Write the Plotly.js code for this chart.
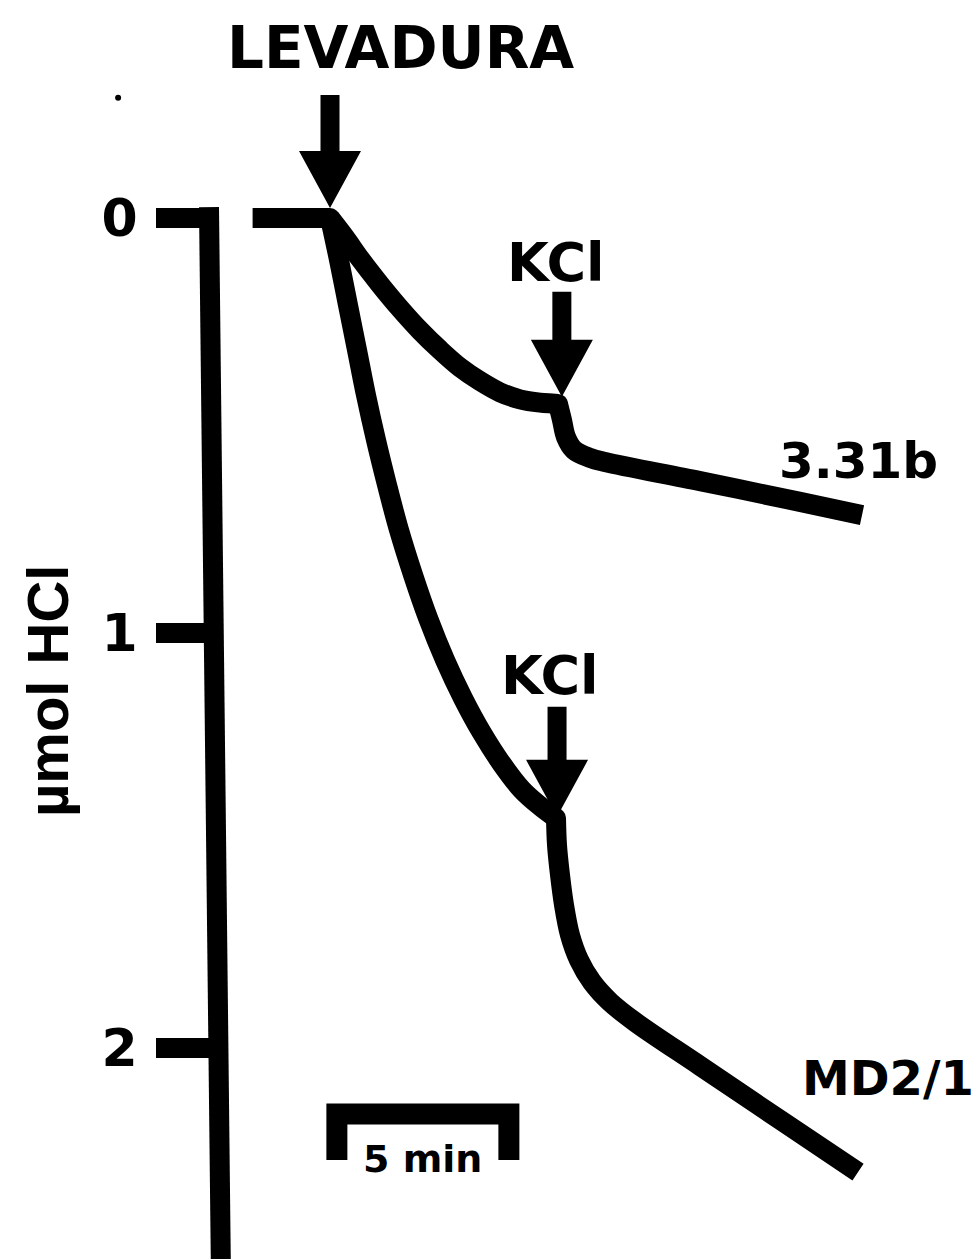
<!DOCTYPE html>
<html><head><meta charset="utf-8">
<script src="https://cdn.plot.ly/plotly-3.0.1.min.js"></script>
<style>html,body{margin:0;padding:0;background:#fff}#chart{width:977px;height:1259px}</style>
</head><body><div id="chart"></div>
<script>
// time in minutes after yeast addition; acid in µmol HCl
const baselineTime = [-2.25, 0];
const baselineHcl = [0, 0];
const time331b = [0, 0.436, 0.872, 1.453, 2.035, 2.616, 3.198, 3.779, 4.360, 4.942, 5.523, 6.105, 6.453, 6.628, 6.744, 6.860, 7.093, 7.558, 7.994, 10.756, 13.663, 15.465];
const hcl331b  = [0, 0.047, 0.098, 0.160, 0.218, 0.271, 0.318, 0.360, 0.393, 0.420, 0.437, 0.445, 0.447, 0.448, 0.487, 0.528, 0.559, 0.578, 0.588, 0.634, 0.684, 0.716];
const timeMD21 = [0, 0.262, 0.523, 0.785, 1.047, 1.337, 1.657, 2.006, 2.413, 2.849, 3.343, 3.866, 4.419, 5.000, 5.581, 6.105, 6.570, 6.599, 6.686, 6.802, 6.977, 7.238, 7.616, 8.140, 8.866, 10.756, 13.081, 15.349];
const hclMD21  = [0, 0.101, 0.210, 0.318, 0.427, 0.535, 0.643, 0.752, 0.860, 0.964, 1.065, 1.157, 1.241, 1.316, 1.378, 1.417, 1.446, 1.511, 1.583, 1.655, 1.728, 1.788, 1.841, 1.889, 1.937, 2.043, 2.173, 2.299];
const seriesNames = ['3.31b', 'MD2/1'];
const seriesLabelTime = [15.35, 13.66];
const seriesLabelHcl = [0.585, 2.072];
const eventLabels = ['LEVADURA', 'KCl', 'KCl'];
const eventTimes = [0, 6.74, 6.60];
const eventHcl = [-0.024, 0.431, 1.443];
const yTickVals = [0, 1, 2];
const yTickText = ['0', '1', '2'];
const yTitle = 'µmol HCl';
const scaleBarStart = 0.2;
const scaleBarMinutes = 5;
const scaleBarHcl = 2.159;
const scaleBarLabel = '5 min';
const speckTime = [-6.16];
const speckHcl = [-0.29];

// ---- styling / layout ----
const PX_PER_MIN = 34.4, PX_PER_UNIT = 415, X0PX = 330, Y0PX = 218, W = 977, H = 1259;
const xRange = [-X0PX / PX_PER_MIN, (W - X0PX) / PX_PER_MIN];
const yRange = [(H - Y0PX) / PX_PER_UNIT, -Y0PX / PX_PER_UNIT];
const FONT = 'DejaVu Sans';
const LW = 20;

// each curve is drawn as two smooth pieces that meet at the KCl addition
function splitIndex(tArr, tKcl) { return tArr.findIndex(t => t >= tKcl - 0.15); }
const traces = [
  {x: baselineTime, y: baselineHcl, mode: 'lines', line: {color: '#000', width: LW}, hoverinfo: 'skip', showlegend: false}
];
const joinT = [baselineTime[baselineTime.length - 1]], joinY = [baselineHcl[baselineHcl.length - 1]];
[[time331b, hcl331b, eventTimes[1]], [timeMD21, hclMD21, eventTimes[2]]].forEach(([tA, yA, tk], s) => {
  const k = splitIndex(tA, tk);
  [[tA.slice(0, k + 1), yA.slice(0, k + 1)], [tA.slice(k), yA.slice(k)]].forEach(([px, py]) => {
    traces.push({x: px, y: py, name: seriesNames[s], mode: 'lines',
      line: {color: '#000', width: LW, shape: 'spline', smoothing: 1}, showlegend: false});
  });
  joinT.push(tA[k]); joinY.push(yA[k]);
});
// round joints where pieces meet
traces.push({x: joinT, y: joinY, mode: 'markers', marker: {color: '#000', size: LW, line: {width: 0}}, hoverinfo: 'skip', showlegend: false});
traces.push({x: speckTime, y: speckHcl, mode: 'markers', marker: {color: '#000', size: 6}, hoverinfo: 'skip', showlegend: false});

const shaftLen = [113, 105, 110];
const headLen = 57, headHalf = 31, shaftHalf = 9.5;
const shapes = [];
eventTimes.forEach((t, i) => {
  const L = shaftLen[i];
  shapes.push({
    type: 'path', xref: 'x', yref: 'y', xsizemode: 'pixel', ysizemode: 'pixel',
    xanchor: t, yanchor: eventHcl[i],
    path: `M${-shaftHalf},${L} L${shaftHalf},${L} L${shaftHalf},${headLen} L${headHalf},${headLen} L0,0 L${-headHalf},${headLen} L${-shaftHalf},${headLen} Z`,
    fillcolor: '#000', line: {width: 0}
  });
});
// y axis spine (slightly tilted like the scan)
shapes.push({type: 'line', xref: 'paper', yref: 'y', x0: 209 / W, x1: 221 / W, y0: -0.026, y1: yRange[0] + 0.05, line: {color: '#000', width: LW}});
// scale bar
const sb0 = scaleBarStart, sb1 = scaleBarStart + scaleBarMinutes;
shapes.push({type: 'path', xref: 'x', yref: 'y', ysizemode: 'pixel', yanchor: scaleBarHcl,
  path: `M${sb0},-46 L${sb0},0 L${sb1},0 L${sb1},-46`, fillcolor: 'rgba(0,0,0,0)', line: {color: '#000', width: 21}});

const ann = [];
const evShift = [[70, 160], [-6, 134], [-7, 141]];
eventLabels.forEach((txt, i) => {
  ann.push({x: eventTimes[i], y: eventHcl[i], xref: 'x', yref: 'y', text: txt, showarrow: false,
    xshift: evShift[i][0], yshift: evShift[i][1], xanchor: 'center', yanchor: 'middle',
    font: {family: FONT, size: i === 0 ? 58 : 54, color: '#000', weight: 'bold'}});
});
seriesNames.forEach((txt, i) => {
  ann.push({x: seriesLabelTime[i], y: seriesLabelHcl[i], xref: 'x', yref: 'y', text: txt, showarrow: false,
    xanchor: i === 0 ? 'center' : 'left', yanchor: 'middle',
    font: {family: FONT, size: i === 0 ? 50 : 48, color: '#000', weight: 'bold'}});
});
ann.push({x: (sb0 + sb1) / 2, y: scaleBarHcl, xref: 'x', yref: 'y', text: scaleBarLabel, showarrow: false,
  yshift: -45, xanchor: 'center', yanchor: 'middle', font: {family: FONT, size: 38, color: '#000', weight: 'bold'}});
ann.push({x: 47 / W, y: 1.14, xref: 'paper', yref: 'y', text: yTitle, showarrow: false, textangle: -90,
  xanchor: 'center', yanchor: 'middle', font: {family: 'Liberation Sans', size: 58, color: '#000', weight: 'bold'}});

const layout = {
  width: W, height: H, margin: {l: 0, r: 0, t: 0, b: 0},
  paper_bgcolor: '#fff', plot_bgcolor: '#fff', showlegend: false,
  xaxis: {range: xRange, visible: false, fixedrange: true},
  yaxis: {range: yRange, anchor: 'free', position: 214 / W, side: 'left',
    showline: false, showgrid: false, zeroline: false,
    ticks: 'outside', ticklen: 58, tickwidth: 20, tickcolor: '#000',
    tickvals: yTickVals, ticktext: yTickText, ticklabelstandoff: 8,
    tickfont: {family: FONT, size: 52, color: '#000', weight: 'bold'}, fixedrange: true},
  shapes: shapes, annotations: ann
};
Plotly.newPlot('chart', traces, layout, {staticPlot: true, displayModeBar: false});
</script></body></html>
